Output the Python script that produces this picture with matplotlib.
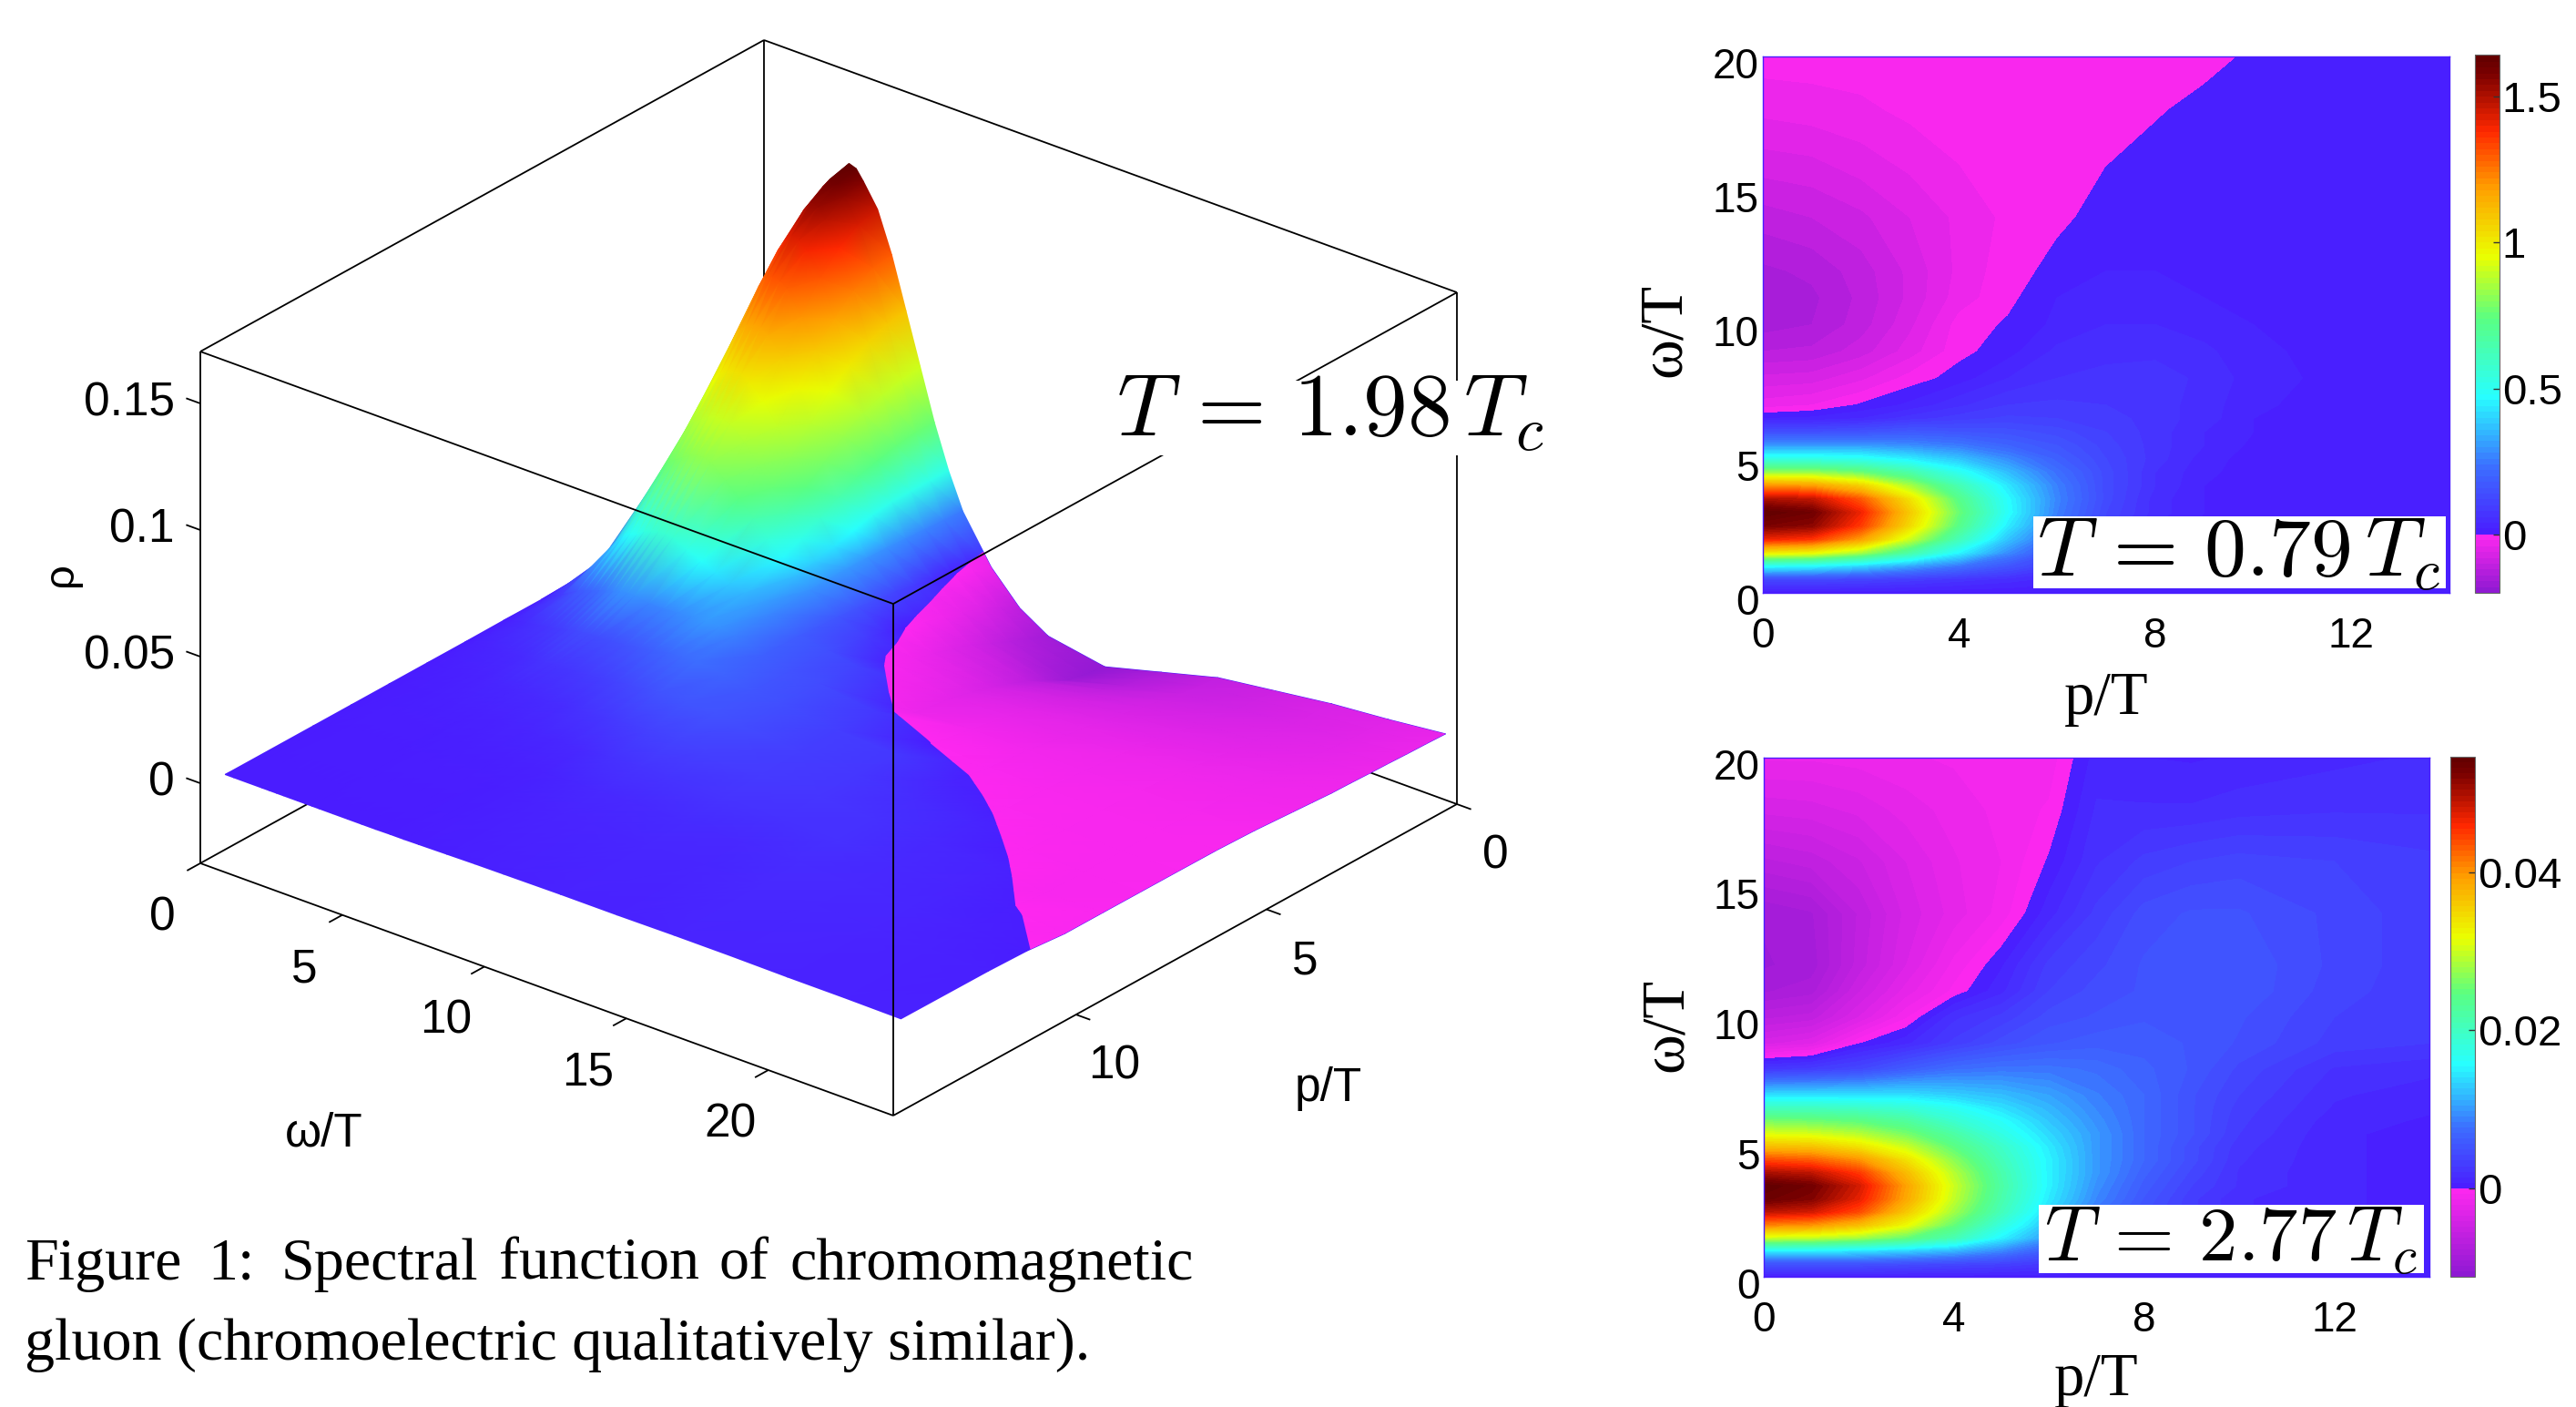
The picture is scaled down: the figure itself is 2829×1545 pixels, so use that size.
"""
Gluon spectral function: 3D surface at T=1.98 Tc plus two contour panels.
"""

import numpy as np
import matplotlib
matplotlib.use("Agg")
import matplotlib.pyplot as plt
from matplotlib.colors import LinearSegmentedColormap, Normalize
from matplotlib.patches import Rectangle
from matplotlib.transforms import ScaledTranslation
from mpl_toolkits.mplot3d import proj3d

FIG_W = 2829
FIG_H = 1545

# ---- panel data, rows are omega/T, columns are p/T ----
PANEL_P = [0, 1, 2, 3, 4, 5, 6, 7, 8, 9, 10, 12, 14]
PANEL_W = [0, .5, 1, 1.5, 2, 2.5, 3, 3.5, 4, 4.5, 5, 5.5, 6, 6.5, 7, 8, 9, 10, 11, 12, 14, 16, 18, 20]

RHO_079 = [
    [.002, .002, .002, .002, .002, .002, .002, .002, .002, .002, .002, .002, .002],
    [.12, .12, .11, .09, .07, .05, .03, .02, .01, .005, .002, .002, .002],
    [.48, .46, .40, .32, .24, .16, .09, .05, .02, .01, .005, .002, .002],
    [1.0, .97, .85, .66, .46, .28, .15, .07, .03, .01, .005, .002, .002],
    [1.40, 1.36, 1.18, .90, .62, .37, .20, .09, .04, .015, .005, .002, .002],
    [1.58, 1.55, 1.35, 1.04, .72, .44, .24, .11, .04, .015, .005, .002, .002],
    [1.64, 1.60, 1.40, 1.08, .76, .48, .26, .12, .05, .02, .005, .002, .002],
    [1.50, 1.47, 1.30, 1.02, .72, .47, .27, .13, .05, .02, .005, .002, .002],
    [1.20, 1.18, 1.06, .85, .63, .43, .26, .13, .06, .02, .01, .002, .002],
    [.82, .82, .76, .65, .50, .36, .23, .13, .06, .025, .01, .002, .002],
    [.52, .52, .50, .44, .37, .28, .19, .12, .07, .03, .01, .002, .002],
    [.30, .30, .30, .28, .25, .20, .16, .11, .07, .04, .015, .002, .002],
    [.14, .14, .15, .17, .16, .15, .13, .10, .07, .04, .02, .002, .002],
    [.02, .025, .04, .07, .09, .105, .10, .09, .07, .05, .02, .002, .002],
    [-.03, -.02, .003, .025, .055, .08, .085, .08, .07, .05, .025, .005, .005],
    [-.075, -.07, -.045, -.012, .01, .04, .06, .065, .07, .055, .03, .01, .01],
    [-.12, -.115, -.09, -.05, -.007, .012, .045, .055, .055, .045, .025, .01, .01],
    [-.15, -.14, -.11, -.065, -.012, .003, .025, .04, .04, .03, .02, .01, .01],
    [-.155, -.145, -.115, -.075, -.03, -.006, .02, .03, .03, .02, .015, .01, .01],
    [-.145, -.135, -.11, -.075, -.035, -.008, .006, .02, .02, .015, .01, .01, .01],
    [-.11, -.10, -.085, -.06, -.035, -.015, -.004, .0065, .012, .012, .01, .01, .01],
    [-.07, -.065, -.05, -.035, -.02, -.012, -.006, -.0004, .005, .008, .008, .008, .008],
    [-.035, -.03, -.025, -.015, -.01, -.006, -.004, -.003, -.0015, .004, .005, .006, .006],
    [-.01, -.01, -.008, -.006, -.004, -.003, -.002, -.002, -.003, -.0044, .0021, .004, .005],
]

# thousandths
RHO_277 = [
    [.2, .2, .2, .2, .2, .2, .2, .2, .2, .2, .2, .2, .2],
    [5, 5, 5, 4.5, 4, 3.5, 2.5, 1.5, 1, .5, .5, .3, .3],
    [15, 15, 14, 13, 11.5, 9, 6, 4, 2.5, 1.5, 1, .5, .5],
    [30, 29.5, 28, 25, 21, 15, 10, 6, 3.5, 2, 1, .5, .5],
    [41, 40, 37, 32, 25, 18, 12, 7, 4.5, 2.5, 1.5, .5, .5],
    [49, 48, 44, 36, 28, 20.5, 13.5, 8, 5, 3, 1.5, .8, .5],
    [53.5, 52, 47, 38.5, 29.5, 21.5, 14.5, 9, 5.5, 3, 1.5, .8, .5],
    [54.5, 53, 48, 39, 30, 22, 15, 9.5, 6, 3.5, 2, .8, .5],
    [50, 49, 45, 37, 29, 21.5, 15, 10, 6.5, 4, 2, .8, .5],
    [44, 43, 40, 34, 27, 20.5, 15, 10, 7, 4.5, 2.2, .8, .5],
    [37, 36.5, 34, 30, 24.5, 19.5, 14.5, 10, 7, 4.5, 2.4, .8, .5],
    [31, 30.5, 29, 26, 22, 17.5, 13.5, 10, 7, 5, 2.8, .8, .5],
    [26, 25.5, 24.5, 22.5, 19, 16, 12.5, 9.5, 7, 5, 3, 1, .6],
    [20, 20, 19.5, 18.5, 16.5, 14, 11.5, 9, 7, 5, 3.2, 1.3, .8],
    [14, 14, 14, 14, 13, 12, 10.5, 8.5, 7, 5, 3.5, 1.5, 1],
    [2.5, 3, 4, 6, 7.5, 8, 8, 7.5, 6.5, 5.5, 4, 2, 1.6],
    [-3.8, -3, -.1, 1.2, 3, 4.5, 5.5, 6, 6, 5.5, 4.8, 3.2, 2.8],
    [-6.5, -6, -3.5, -.8, 1.9, 3, 4.5, 5, 5.5, 5.5, 5, 3.5, 3],
    [-8.5, -8, -5, -2.5, -.5, 1.2, 3.5, 4.5, 5, 5.5, 5.5, 3.8, 3],
    [-9.2, -8.8, -6, -3.5, -1.2, .6, 3, 4, 5, 5.5, 5.5, 4, 3],
    [-9, -8.5, -6.2, -4, -2.5, -1.1, 1.1, 3, 4.5, 5, 5, 4, 3],
    [-6.5, -6, -5, -3.5, -2.2, -1.4, .1, 2, 3, 3.5, 3.8, 3.5, 3],
    [-4, -3.8, -3.3, -2.5, -1.8, -1.2, -.6, 1.5, 1.5, 1.5, 1.8, 2, 2],
    [-2, -2, -1.8, -1.5, -1.3, -1.2, -1.1, 1, .7, .6, .8, 1.2, 1.5],
]

# ---- surface data, T = 1.98 Tc, thousandths ----
SURF_P = [0, .5, 1, 1.5, 2, 2.5, 3, 3.5, 4, 5, 6, 7, 8, 9, 10, 11, 12, 14.3]
SURF_W = [.2, .5, 1, 1.5, 1.75, 2, 2.25, 2.5, 2.75, 3, 3.25, 3.5, 4, 4.5, 5, 5.5, 6, 6.5, 7, 8, 9, 10, 12, 14,
          16, 18, 20, 22, 24]
RHO_198 = [
    [.3, .3, .3, .3, .3, .3, .3, .3, .3, .2, .2, .2, .1, .1, .1, .1, .1, .1],
    [8, 8, 8, 7.8, 7.5, 7, 6.5, 6, 5.5, 4, 2.5, 1.2, .8, .4, .2, .2, .1, .1],
    [30, 30, 29.5, 28.5, 27, 25, 23, 21, 18.5, 11, 5.5, 2.5, 1.2, .7, .4, .3, .2, .1],
    [66, 65.5, 64, 61, 57, 52, 47, 41, 35, 20, 9, 3.5, 1.6, .9, .5, .3, .2, .1],
    [84, 83, 81, 77, 71, 64, 57, 49, 41, 23, 10, 3.8, 1.8, 1, .6, .3, .2, .1],
    [100, 99, 96, 91, 84, 75, 65, 55, 45, 25, 11, 4.5, 2, 1, .6, .3, .2, .1],
    [113, 112, 108, 102, 93, 82, 70, 58, 47, 26, 12, 5, 2.3, 1.2, .7, .4, .2, .1],
    [123, 121, 117, 110, 100, 87, 74, 60, 49, 28, 13, 6, 2.8, 1.3, .8, .4, .2, .1],
    [130, 128, 123, 115, 104, 90, 76, 62, 51, 29, 14, 6.5, 3, 1.5, .8, .4, .2, .1],
    [134, 132, 127, 118, 106, 91, 77, 63, 52, 30, 15, 7, 3.5, 1.5, .8, .4, .2, .1],
    [133, 131, 126, 117, 105, 91, 77, 63, 52, 30, 15, 7, 3.5, 1.7, .9, .5, .2, .1],
    [129, 127, 122, 114, 103, 89, 75, 62, 51, 29.5, 15, 7, 3.7, 1.8, 1, .5, .3, .1],
    [120, 118, 113, 105, 94, 82, 69, 57, 46, 27, 14, 7.5, 4, 2, 1, .5, .3, .1],
    [104, 103, 98, 91, 83, 72, 61, 50, 41, 24.5, 14, 8, 4.5, 2.2, 1.1, .6, .3, .1],
    [84, 83, 80, 75, 69, 60, 51, 43, 35, 22, 14.5, 9, 5, 2.5, 1.2, .6, .3, .1],
    [64, 63, 61, 58, 53, 47, 41, 35, 29, 19.5, 15, 10, 5.8, 3, 1.4, .7, .3, .1],
    [44, 44, 43, 41, 39, 35, 31, 27, 23.5, 18, 15.5, 11, 6.5, 3.5, 1.5, .8, .4, .2],
    [27, 27, 27, 27, 26, 24, 22, 20, 18.5, 16, 15, 11.5, 7.2, 4, 1.8, .9, .5, .2],
    [13, 13.5, 14, 14.5, 15, 15.3, 15.5, 15.3, 15, 14, 13.5, 12, 8, 4.5, 2, 1, .6, .3],
    [-5, -2, .5, 2.5, 4.5, 6, 7, 8, 8.5, 9.5, 10, 10.5, 8.5, 5.5, 3, 1.5, 1, .5],
    [-17, -13, -9, -6.5, -4, -2, .05, 2.5, 4.5, 7.5, 8, 8.5, 8, 6, 3.5, 2, 1.2, .7],
    [-24, -21, -18, -14.5, -11, -8.5, -6, -4, -2.4, 5.6, 7, 7.5, 7, 5.5, 3.5, 2, 1.3, .8],
    [-28, -27, -25, -21, -17, -14, -11, -9, -7, -4.6, 4.25, 5, 5, 4.5, 3.5, 2.2, 1.6, 1],
    [-22, -20.5, -19, -16.5, -14, -11.5, -9.5, -7.5, -6, -3, -.22, 4.2, 4, 3.8, 3, 2, 1.5, 1],
    [-16, -15, -14, -12.5, -11, -9.5, -8, -6.5, -5.5, -3, -1.47, 1.2, 2.5, 3, 3, 2.5, 2, 1.2],
    [-13, -12.5, -12, -10.7, -9.5, -8.2, -7, -5.7, -4.5, -3, -1.8, -.98, 1.4, 1.8, 2, 2, 1.7, 1.2],
    [-10, -9.7, -9.5, -8.7, -8, -7, -6, -5, -4, -2.5, -1.8, -1.5, -1.15, 1.15, 1.3, 1.4, 1.3, 1],
    [-8, -7.7, -7.5, -7, -6.5, -5.7, -5, -4.2, -3.5, -2.5, -1.7, -1.8, -1.9, -1.72, .43, .8, 1, 1],
    [-5.5, -5.2, -5, -4.7, -4.5, -4.2, -4, -3.5, -3, -2, -1.5, -1.4, -1.35, -1.3, -1.29, .14, .6, .8],
]

# ---- axis ranges and ticks ----
BOX_P = (0, 14.8)
BOX_W = (0, 24.4)
BOX_Z = (-.0316, .1705)
TICKS_P = [0, 5, 10]
TICKS_W = [0, 5, 10, 15, 20]
TICKS_Z = [0, .05, .1, .15]
LABELS_Z = ["0", "0.05", "0.1", "0.15"]

# ---- colours, positive part as fractions of the top value ----
INDIGO = "#4a1cff"
MAGENTA = "#ff28f0"
PURPLE = "#8c19d2"
POS_FRACS = [0, .14, .287, .45, .58, .72, .84, .96, 1]
POS_COLORS = [INDIGO, "#3c6eff", "#28ffff", "#5aff82", "#ebff00", "#ffa000", "#ff2800", "#7a0000", "#600000"]
SURF_LEVELS = [0, .012, .024, .041, .07, .092, .113, .130, .134]

CAPTION_1 = ["Figure", "1:", "Spectral", "function", "of", "chromomagnetic"]
CAPTION_1_X = [27, 228, 309, 548, 790, 868]
CAPTION_2 = "gluon (chromoelectric qualitatively similar)."


def px_rect(left, top, right, bottom):
    return [left / FIG_W, 1 - bottom / FIG_H, (right - left) / FIG_W, (bottom - top) / FIG_H]


def fig_text(x, y, s, **kw):
    kw.setdefault("ha", "center")
    kw.setdefault("va", "center")
    return plt.figtext(x / FIG_W, 1 - y / FIG_H, s, **kw)


def white_box(left, top, right, bottom):
    plt.gcf().add_artist(Rectangle((left / FIG_W, 1 - bottom / FIG_H), (right - left) / FIG_W, (bottom - top) / FIG_H,
                                   transform=plt.gcf().transFigure, facecolor="white", edgecolor="none", zorder=4))


def value_cmap(vmin, vmax, pos_values, neg_colors=(PURPLE, MAGENTA), pos_colors=POS_COLORS):
    vals = [vmin, 0] + list(pos_values)
    cols = list(neg_colors) + list(pos_colors)
    return LinearSegmentedColormap.from_list(
        "rho", [((v - vmin) / (vmax - vmin), c) for v, c in zip(vals, cols)], N=1024)


def draw_panel(rect, cbar_rect, rho, vmin, vmax, step, ticks, ticklabels):
    fig = plt.gcf()
    ax = plt.axes(px_rect(*rect))
    levels = np.arange(int(np.floor(vmin / step)), int(np.ceil(vmax / step)) + 1) * step
    cmap = value_cmap(vmin, vmax, np.array(POS_FRACS) * vmax)
    cs = ax.contourf(PANEL_P, PANEL_W, rho, levels=levels, cmap=cmap, norm=Normalize(vmin, vmax))
    ax.set_xlim(0, 14)
    ax.set_ylim(0, 20)
    ax.set_xticks([0, 4, 8, 12])
    ax.set_yticks([0, 5, 10, 15, 20])
    ax.tick_params(length=0, labelsize=33)
    ax.tick_params(axis="x", pad=19)
    ax.tick_params(axis="y", pad=3)
    for lab in ax.get_xticklabels() + ax.get_yticklabels():
        lab.set_fontfamily("Liberation Sans")
    for lab in ax.get_yticklabels():
        lab.set_transform(lab.get_transform() + ScaledTranslation(0, -.07, fig.dpi_scale_trans))
    for s in ax.spines.values():
        s.set_color(INDIGO)
        s.set_linewidth(1)
    cax = plt.axes(px_rect(*cbar_rect))
    cb = plt.colorbar(cs, cax=cax, ticks=ticks)
    cb.ax.set_ylim(vmin, vmax)
    cb.ax.set_yticklabels(ticklabels, family="Liberation Sans", fontsize=34)
    cb.ax.tick_params(length=5, direction="in", width=1, pad=2, color="#333333")
    cb.outline.set_linewidth(.8)
    cb.outline.set_edgecolor("#666666")
    return ax


def main():
    plt.rcParams["mathtext.fontset"] = "cm"
    plt.rcParams["font.family"] = "Liberation Sans"
    fig = plt.figure(figsize=(FIG_W / 100, FIG_H / 100), dpi=100)

    # 3D axes only provides the view projection, the picture is laid out on a 2D overlay
    ax3d = fig.add_axes([0, 0, .5, .9], projection="3d", proj_type="ortho")
    ax3d.view_init(elev=26.7, azim=39.07)
    ax3d.set_xlim(*BOX_P)
    ax3d.set_ylim(*BOX_W)
    ax3d.set_zlim(*BOX_Z)
    ax3d.set_box_aspect((982, 980, 630))
    ax3d.set_visible(False)
    M = ax3d.get_proj()

    def project(p, w, z):
        xs, ys, _ = proj3d.proj_transform(np.asarray(p, float), np.asarray(w, float), np.asarray(z, float), M)
        return xs, ys

    ax = fig.add_axes([0, 0, 1, 1])
    ax.set_axis_off()
    xl, _ = project(BOX_P[1], BOX_W[0], BOX_Z[0])
    xr, _ = project(BOX_P[0], BOX_W[1], BOX_Z[0])
    _, yf = project(BOX_P[1], BOX_W[1], BOX_Z[0])
    _, yb = project(BOX_P[0], BOX_W[0], BOX_Z[1])
    sx = (1600 - 220) / (xr - xl)
    sy = (1225 - 44) / (yb - yf)
    ax.set_xlim(xl - 220 / sx, xl + (FIG_W - 220) / sx)
    ax.set_ylim(yf - (FIG_H - 1225) / sy, yf + 1225 / sy)

    def box_line(a, b, zorder):
        x, y = project([a[0], b[0]], [a[1], b[1]], [a[2], b[2]])
        ax.plot(x, y, color="black", lw=1.3, zorder=zorder, solid_capstyle="butt")

    p0, p1 = BOX_P
    w0, w1 = BOX_W
    z0, z1 = BOX_Z
    # edges behind the surface
    box_line((p0, w0, z1), (p1, w0, z1), 1)
    box_line((p0, w0, z1), (p0, w1, z1), 1)
    box_line((p0, w0, z0), (p0, w0, z1), 1)
    box_line((p0, w0, z0), (p1, w0, z0), 1)
    box_line((p0, w0, z0), (p0, w1, z0), 1)
    box_line((p1, w0, z0), (p1, w0, z1), 1)
    box_line((p0, w1, z0), (p0, w1, z1), 1)
    box_line((p1, w0, z0), (p1, w1, z0), 1)
    box_line((p0, w1, z0), (p1, w1, z0), 1)

    # surface, cells run back to front so later triangles hide earlier ones
    rho = np.array(RHO_198) * 1e-3
    pg, wg = np.meshgrid(SURF_P, SURF_W)
    x, y = project(pg.ravel(), wg.ravel(), rho.ravel())
    nw, np_ = rho.shape
    tris = []
    tri_rows = []
    for i in range(nw - 1):
        for j in range(np_ - 1):
            a = i * np_ + j
            tris += [[a, a + 1, a + np_], [a + 1, a + np_ + 1, a + np_]]
            tri_rows += [i, i]
    tris = np.array(tris)
    tri_rows = np.array(tri_rows)

    vmin = -.03
    vmax = .134
    norm = Normalize(vmin, vmax)
    cmap_pos = value_cmap(vmin, vmax, SURF_LEVELS, neg_colors=(INDIGO, INDIGO))
    cmap_neg = value_cmap(vmin, vmax, SURF_LEVELS, pos_colors=[MAGENTA] * len(SURF_LEVELS))
    ax.tripcolor(x, y, tris, rho.ravel(), shading="gouraud", cmap=cmap_pos, norm=norm, zorder=2)

    # negative part gets its own mesh clipped at the zero line, keeps the sign edge sharp
    first = SURF_W.index(7)
    xg = x.reshape(rho.shape)
    yg = y.reshape(rho.shape)
    cs = ax.contourf(xg[first:], yg[first:], rho[first:], levels=[-1, 0], colors="none")
    zero_path = cs.get_paths()[0]
    cs.remove()
    neg = ax.tripcolor(x, y, tris[tri_rows >= first], rho.ravel(), shading="gouraud",
                       cmap=cmap_neg, norm=norm, zorder=3)
    neg.set_clip_path(zero_path, transform=ax.transData)

    # edges in front of the surface
    box_line((p1, w0, z1), (p1, w1, z1), 5)
    box_line((p0, w1, z1), (p1, w1, z1), 5)
    box_line((p1, w1, z0), (p1, w1, z1), 5)

    # tick marks and labels
    for t, lab in zip(TICKS_Z, LABELS_Z):
        box_line((p1, w0, t), (p1, w0 - .5, t), 5)
        ax.annotate(lab, project(p1, w0, t), xytext=(-28, 0), textcoords="offset pixels",
                    ha="right", va="center", fontsize=37)
    for t in TICKS_W:
        box_line((p1, t, z0), (p1 + .35, t, z0), 5)
        ax.annotate(str(t), project(p1, t, z0), xytext=(-42, -60), textcoords="offset pixels",
                    ha="center", va="center", fontsize=37)
    for t in TICKS_P:
        box_line((t, w1, z0), (t, w1 + .5, z0), 5)
        ax.annotate(str(t), project(t, w1, z0), xytext=(42, -57), textcoords="offset pixels",
                    ha="center", va="center", fontsize=37)
    fig_text(356, 1245, "\u03c9/T", fontsize=37)
    fig_text(1459, 1195, "p/T", fontsize=37)
    fig_text(67, 631, "\u03c1", fontsize=34, rotation=90)
    white_box(1205, 418, 1705, 500)
    fig_text(1461, 453, r"$T\,=\,1.98\,T_c$", fontsize=70, zorder=6)

    # contour panels
    draw_panel((1936, 62, 2690, 651), (2718, 60, 2745, 651), RHO_079, -.2, 1.644, .02,
               [0, .5, 1, 1.5], ["0", "0.5", "1", "1.5"])
    draw_panel((1937, 832, 2668, 1402), (2691, 831, 2718, 1402), np.array(RHO_277) * 1e-3, -.0112, .0546, .0007,
               [0, .02, .04], ["0", "0.02", "0.04"])
    for x_c, y_c, xlab_y, ylab_x in [(2313, 362, 768, 1828), (2302, 1125, 1515, 1830)]:
        fig_text(x_c, xlab_y, "p/T", fontsize=48, family="Liberation Serif")
        fig_text(ylab_x, y_c, "\u03c9/T", fontsize=48, family="Liberation Serif", rotation=90)
    white_box(2233, 567, 2686, 646)
    white_box(2239, 1323, 2662, 1398)
    fig_text(2459, 608, r"$T\,=\,0.79\,T_c$", fontsize=66, zorder=6)
    fig_text(2450, 1363, r"$T\,=\,2.77\,T_c$", fontsize=61, zorder=6)

    # caption
    for word, wx in zip(CAPTION_1, CAPTION_1_X):
        fig_text(wx, 1389, word, fontsize=47.5, ha="left", family="Liberation Serif")
    fig_text(27, 1477, CAPTION_2, fontsize=47.5, ha="left", family="Liberation Serif")

    fig.savefig("out.png", dpi=100)


if __name__ == "__main__":
    main()
